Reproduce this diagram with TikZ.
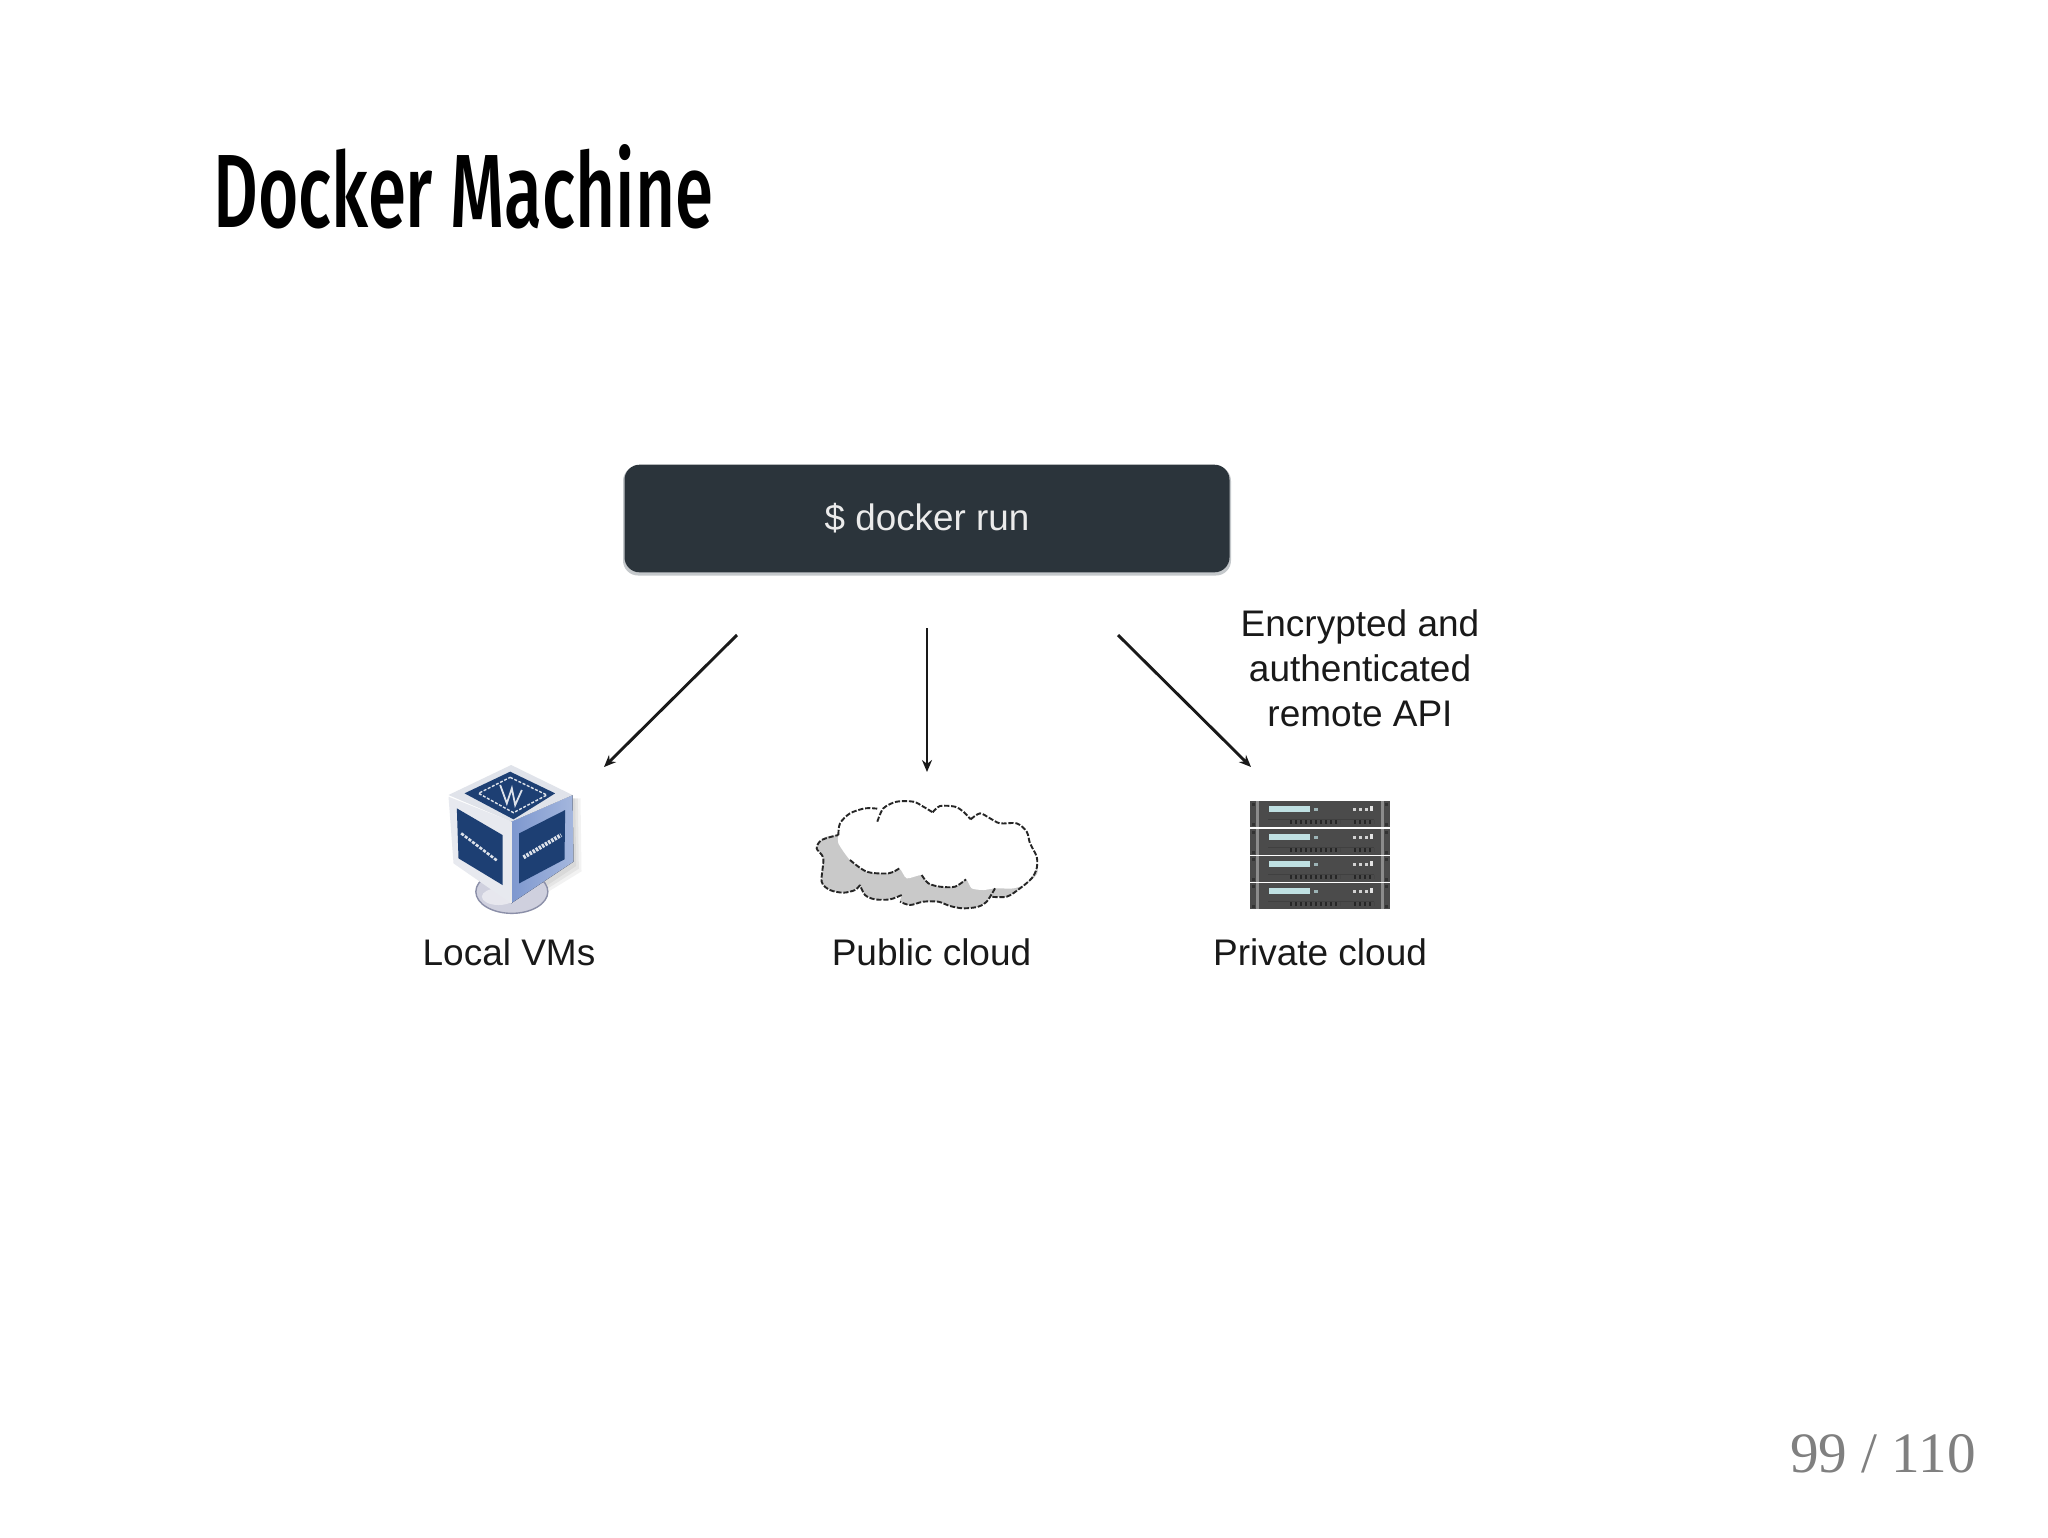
\documentclass[tikz,border=0pt]{standalone}
\usepackage{fontspec}
\setmainfont{Liberation Sans}
\newfontfamily\titlefont{Fira Sans Medium}
\newfontfamily\pagefont{Liberation Serif}
\usetikzlibrary{arrows.meta}
\definecolor{boxdark}{HTML}{2B343B}
\definecolor{boxedge}{HTML}{C4C8CB}
\definecolor{cubeblue}{HTML}{1D3F73}
\definecolor{cubeframeR}{HTML}{7E98CF}
\definecolor{cubeframeL}{HTML}{E7E9EF}
\definecolor{cubetop}{HTML}{E0E3EA}
\definecolor{standfill}{HTML}{CFD0DE}
\definecolor{standline}{HTML}{8B8FA8}
\definecolor{cloudgray}{HTML}{C9C9C9}
\definecolor{rack}{HTML}{4B4B4B}
\definecolor{rackedge}{HTML}{8C8C8C}
\definecolor{rackbar}{HTML}{BFE0E2}
\definecolor{pagegray}{HTML}{808080}
\tikzset{
  label/.style={font=\fontsize{18.5}{22.5}\selectfont,text=black!90,inner sep=0pt},
  conn/.style={line width=1.45pt,black!90,-{Stealth[length=6pt,width=5pt]}},
  cloudline/.style={line width=0.95pt,black!85,dash pattern=on 2.6pt off 0.9pt,line join=round},
}
\begin{document}
\begin{tikzpicture}[x=0.5pt,y=-0.5pt]
\useasboundingbox (0,0) rectangle (2048,1537);
\fill[white] (0,0) rectangle (2048,1537);

% title and page number
\node[anchor=base west,inner sep=0pt] (title) at (213,227)
  {\resizebox{250pt}{41.5pt}{\titlefont Docker Machine}};
\node[anchor=base east,inner sep=0pt,text=pagegray,font=\pagefont\fontsize{28.6}{30}\selectfont] (page) at (1976,1472) {99 / 110};

% command box
\fill[boxedge,rounded corners=7.5pt] (623,466) rectangle (1231,575.5);
\node[fill=boxdark,rounded corners=7.5pt,minimum width=302.5pt,minimum height=53.8pt,inner sep=0pt,
      text=white!92!black,font=\fontsize{18.4}{22.5}\selectfont] (run) at (927,518.5) {\raisebox{-1.2pt}{\$ docker run}};

% connectors
\coordinate (ls) at (737,635); \coordinate (le) at (604,767);
\coordinate (ms) at (927,628); \coordinate (me) at (927,772);
\coordinate (rs) at (1118,635); \coordinate (re) at (1251,767);
\draw[conn] (ls) -- (le);
\draw[conn] (ms) -- (me);
\draw[conn] (rs) -- (re);

% labels
\node[label,align=center,anchor=center] (api) at (1360,668.5) {Encrypted and\\authenticated\\remote API};
\node[label,anchor=base] (lvm) at (509,965) {Local VMs};
\node[label,anchor=base] (pub) at (931.5,965) {Public cloud};
\node[label,anchor=base] (pri) at (1320,965) {Private cloud};

% VirtualBox cube icon
\begin{scope}[shift={(398.5,740)},x=0.16667pt,y=-0.16667pt]
  % soft shadow
  \foreach \e in {24,16,8}{
    \fill[black,opacity=0.05] (500,175) -- (522+\e,175) -- (525+\e,370+\e) -- (345,495+\e) -- cycle;
  }
  % stand
  \fill[standfill,draw=standline,line width=0.7pt] (340,455) ellipse (108 and 65);
  \fill[white,opacity=0.5] (300,470) ellipse (50 and 25);
  % left face
  \fill[cubeframeL] (150,170) -- (338,245) -- (338,490) -- (165,370) -- cycle;
  % right face
  \fill[left color=cubeframeR,right color=cubeframeR!70!white] (338,245) -- (522,165) -- (525,365) -- (338,490) -- cycle;
  \draw[white!92!black,line width=0.9pt] (338,245) -- (338,490);
  % top face
  \fill[cubetop] (338,75) -- (522,165) -- (338,245) -- (150,165) -- cycle;
  % dark panels
  \fill[cubeblue] (335,95) -- (470,160) -- (345,238) -- (198,160) -- cycle;
  \fill[cubeblue] (175,205) -- (312,285) -- (312,435) -- (180,355) -- cycle;
  \fill[cubeblue] (362,280) -- (500,210) -- (498,358) -- (362,430) -- cycle;
  % logo frame on top
  \draw[white!85!cubeblue,line width=0.7pt,dash pattern=on 1.5pt off 0.8pt] (335,112) -- (445,165) -- (345,218) -- (240,160) -- cycle;
  \draw[white!85!cubeblue,line width=0.9pt] (305,135) -- (325,190) -- (340,145) -- (350,195) -- (370,150);
  % blurred lettering on the side panels
  \draw[white!85!cubeblue,line width=1.3pt,dash pattern=on 1.6pt off 0.7pt] (188,280) -- (296,362);
  \draw[white!85!cubeblue,line width=2pt,dash pattern=on 1.2pt off 0.6pt] (375,352) -- (488,285);
\end{scope}

% cloud icon
\begin{scope}[shift={(800,780)},x=0.16667pt,y=-0.16667pt]
  \fill[cloudgray] plot[smooth cycle,tension=0.4] coordinates {(115,165) (65,180) (50,205) (70,235) (65,305) (90,330) (130,338) (165,330) (180,315) (195,345) (225,358) (270,358) (305,345) (300,365) (330,375) (370,365) (415,365) (450,378) (490,385) (535,380) (560,365) (570,350) (620,350) (660,325) (710,265) (500,150)};
  \fill[white] plot[smooth cycle,tension=0.4] coordinates {(115,165) (120,130) (150,100) (195,85) (232,88) (250,85) (290,65) (340,65) (370,80) (398,97) (420,78) (465,80) (490,95) (512,118) (540,100) (570,115) (600,130) (650,130) (680,155) (690,190) (710,230) (710,265) (680,310) (640,325) (585,325) (550,330) (515,325) (498,298) (465,320) (420,320) (385,310) (365,285) (320,295) (298,265) (265,280) (200,275) (150,240) (115,190)};
  % outline
  \draw[cloudline] plot[smooth,tension=0.5] coordinates {(115,165) (120,130) (150,100) (195,85) (232,86)};
  \draw[cloudline] plot[smooth,tension=0.5] coordinates {(232,125) (250,85) (290,65) (340,65) (370,80) (398,97)};
  \draw[cloudline] plot[smooth,tension=0.5] coordinates {(398,97) (420,78) (465,80) (490,95) (512,118)};
  \draw[cloudline] plot[smooth,tension=0.5] coordinates {(512,118) (540,100) (570,115) (600,130) (650,130) (680,155) (690,190) (710,230) (710,265) (695,295) (660,325) (620,350) (570,350)};
  \draw[cloudline] plot[smooth,tension=0.5] coordinates {(585,325) (560,365) (535,380) (490,385) (450,378) (415,365) (370,365) (330,375) (300,365)};
  \draw[cloudline] plot[smooth,tension=0.5] coordinates {(305,345) (270,358) (225,358) (195,345) (180,315)};
  \draw[cloudline] plot[smooth,tension=0.5] coordinates {(180,315) (165,330) (130,338) (90,330) (65,305) (70,235) (50,205) (65,180) (115,165)};
  \draw[cloudline] plot[smooth,tension=0.5] coordinates {(150,240) (200,275) (265,280) (298,265)};
  \draw[cloudline] plot[smooth,tension=0.5] coordinates {(365,285) (385,310) (420,320) (465,320) (498,298)};
\end{scope}

% server rack icon
\foreach \sy in {801,829,856,883}{
\begin{scope}[shift={(1250,\sy)}]
  \fill[rack] (0,0) rectangle (140,26);
  \fill[rackedge] (6,0) rectangle (9,26);
  \fill[rackedge] (131,0) rectangle (134,26);
  \fill[black!80] (2,1.5) rectangle (5,4.5);
  \fill[black!80] (2,21.5) rectangle (5,24.5);
  \fill[black!80] (135,1.5) rectangle (138,4.5);
  \fill[black!80] (135,21.5) rectangle (138,24.5);
  \fill[rackbar] (19,5) rectangle (60,10.5);
  \fill[rackbar!70!rack] (64,7) rectangle (68,9.5);
  \foreach \lx in {103,109,115}{\fill[white!75!rack] (\lx,6.5) rectangle (\lx+3,10);}
  \fill[white!85!rack] (120,5) rectangle (123,10);
  \draw[black!75,line width=0.9pt] (18,18.5) -- (124,18.5);
  \draw[black!85,line width=1.9pt,dash pattern=on 1.1pt off 1.4pt] (40,21) -- (90,21);
  \draw[black!85,line width=1.9pt,dash pattern=on 1.1pt off 1.4pt] (104,21) -- (124,21);
\end{scope}}
\end{tikzpicture}
\end{document}
